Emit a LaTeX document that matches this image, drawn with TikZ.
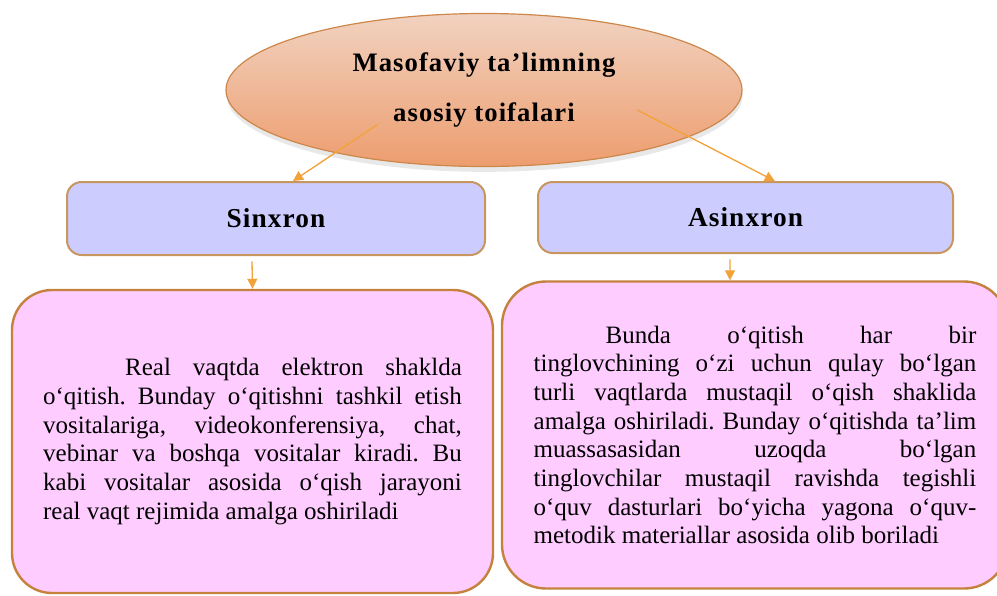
\documentclass[tikz,border=0pt]{standalone}
\usepackage{fontspec}
\setmainfont{Liberation Serif}
\newfontfamily\headfont[LetterSpace=4]{Liberation Serif}
\usepackage{tikz}
\usetikzlibrary{arrows.meta,shapes.geometric,shadows}
\definecolor{peachtop}{RGB}{241,210,192}
\definecolor{peachbot}{RGB}{237,157,110}
\definecolor{ovalline}{RGB}{205,135,75}
\definecolor{lavender}{RGB}{204,204,255}
\definecolor{tanline}{RGB}{200,150,95}
\definecolor{pinkfill}{RGB}{255,204,255}
\definecolor{pinkline}{RGB}{196,130,62}
\definecolor{arroworange}{RGB}{241,163,58}

\begin{document}
\begin{tikzpicture}[x=0.75pt, y=-0.75pt,
    oval/.style={ellipse, draw=ovalline, line width=0.9pt, top color=peachtop, bottom color=peachbot,
        drop shadow={shadow xshift=0.5pt, shadow yshift=-4pt, opacity=0.18, fill=gray},
        align=center, font=\headfont\fontsize{20}{38}\selectfont\bfseries},
    kind/.style={draw=tanline, line width=1.5pt, fill=lavender, rounded corners=11pt,
        font=\headfont\fontsize{20.5}{24}\selectfont\bfseries},
    info/.style={draw=pinkline, line width=1.8pt, fill=pinkfill, rounded corners=30pt,
        align=justify, font=\fontsize{18.75}{21.5}\selectfont},
    link/.style={-{Triangle[width=7.5pt,length=7.5pt]}, line width=1pt, arroworange}]
    \path[use as bounding box, clip] (0,0) rectangle (997,596);

    % Main category
    \node[oval, minimum width=387pt, minimum height=114.75pt] (title) at (484,90)
        {Masofaviy ta’limning\\asosiy toifalari};

    % Two kinds
    \node[kind, minimum width=313.5pt, minimum height=54.75pt] (sinx) at (276,218.5) {Sinxron};
    \node[kind, minimum width=311.25pt, minimum height=53.25pt] (asinx) at (745.5,217.5) {Asinxron};

    % Descriptions
    \node[info, text width=314pt, minimum width=360.75pt, minimum height=227.25pt] (sinxtext) at (252.5,441.5)
        {\frenchspacing\tolerance=10000\hyphenpenalty=10000
        \hspace*{61.5pt}Real vaqtda elektron shaklda\linebreak
        o‘qitish. Bunday o‘qitishni tashkil etish\linebreak
        vositalariga, videokonferensiya, chat,\linebreak
        vebinar va boshqa vositalar kiradi. Bu\linebreak
        kabi vositalar asosida o‘qish jarayoni\linebreak
        real vaqt rejimida amalga oshiriladi};
    \node[info, rounded corners=33pt, text width=332pt, minimum width=379.5pt, minimum height=230.25pt] (asinxtext) at (755,435)
        {\frenchspacing\tolerance=10000\hyphenpenalty=10000
        \hspace*{54pt}Bunda o‘qitish har bir\linebreak
        tinglovchining o‘zi uchun qulay bo‘lgan\linebreak
        turli vaqtlarda mustaqil o‘qish shaklida\linebreak
        amalga oshiriladi. Bunday o‘qitishda ta’lim\linebreak
        muassasasidan uzoqda bo‘lgan\linebreak
        tinglovchilar mustaqil ravishda tegishli\linebreak
        o‘quv dasturlari bo‘yicha yagona o‘quv-\linebreak
        metodik materiallar asosida olib boriladi};

    % Arrows
    \coordinate (fromleft) at ([xshift=-80pt,yshift=-26pt]title.center);
    \coordinate (fromright) at ([xshift=115pt,yshift=-15pt]title.center);
    \draw[link] (fromleft) -- ([xshift=12.75pt]sinx.north);
    \draw[link] (fromright) -- ([xshift=22pt]asinx.north);
    \draw[link] ([xshift=-18pt,yshift=-4pt]sinx.south) -- (sinxtext.north);
    \draw[link] ([xshift=-11.6pt,yshift=-4pt]asinx.south) -- ([xshift=-18.75pt]asinxtext.north);
\end{tikzpicture}
\end{document}
